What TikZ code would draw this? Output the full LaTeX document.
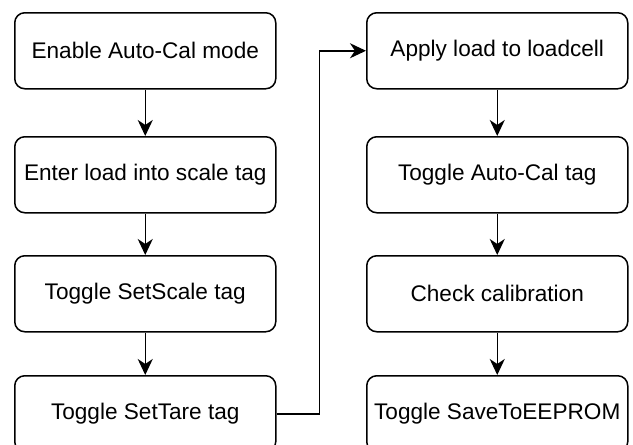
\documentclass[tikz,border=0pt]{standalone}
\usepackage{fontspec}
\setmainfont{Liberation Sans}
\usetikzlibrary{arrows.meta}

\begin{document}
\begin{tikzpicture}[x=1pt,y=1pt,
    stepbox/.style={draw,rectangle,rounded corners=10pt,line width=1.5pt,
      minimum width=261pt,minimum height=76pt,inner sep=1pt,anchor=north west,
      font=\fontsize{22.6}{27}\selectfont},
    flow/.style={line width=1.5pt,-{Stealth[length=16pt,width=15pt,inset=5pt]}}]
  \useasboundingbox (0,0) rectangle (633,-445);

  \node[stepbox] (L1) at (14,-12) {Enable Auto-Cal mode};
  \node[stepbox] (L2) at (14,-136) {Enter load into scale tag};
  \node[stepbox] (L3) at (14,-255) {Toggle SetScale tag};
  \node[stepbox] (L4) at (14,-375) {Toggle SetTare tag};

  \node[stepbox] (R1) at (366,-12) {Apply load to loadcell};
  \node[stepbox] (R2) at (366,-136) {Toggle Auto-Cal tag};
  \node[stepbox] (R3) at (366,-255) {Check calibration};
  \node[stepbox] (R4) at (366,-375) {Toggle SaveToEEPROM};

  \path[flow] (L1) edge (L2) (L2) edge (L3) (L3) edge (L4);
  \path[flow] (R1) edge (R2) (R2) edge (R3) (R3) edge (R4);
  \draw[flow] (L4.east) -- ++(43,0) |- (R1.west);
\end{tikzpicture}
\end{document}
